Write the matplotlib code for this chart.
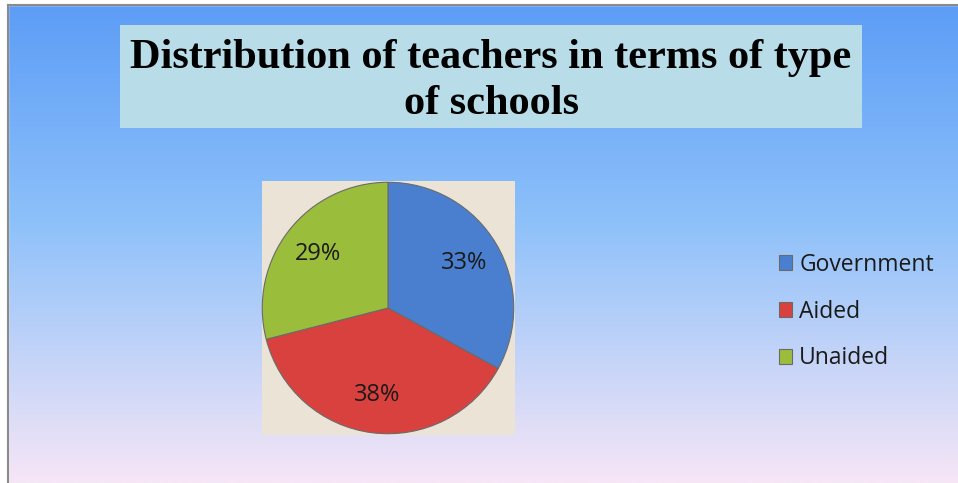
import numpy as np
import matplotlib.pyplot as plt
from matplotlib.patches import Rectangle

# data
categories = ['Government', 'Aided', 'Unaided']
shares = [33, 38, 29]
colors = ['#4a7fd0', '#d9413e', '#9bbd3c']

W, H = 958, 483
fig = plt.figure(figsize=(W / 100, H / 100), dpi=100)

# gradient background
bg = fig.add_axes([0, 0, 1, 1])
top = np.array([92, 156, 246]) / 255
mid = np.array([140, 192, 250]) / 255
bot = np.array([246, 230, 246]) / 255
t = np.linspace(0, 1, 256)[:, None]
grad = np.where(t < 0.45, top + (mid - top) * (t / 0.45), mid + (bot - mid) * ((t - 0.45) / 0.55))
bg.imshow(grad[:, None, :], aspect='auto', extent=[0, 1, 0, 1])
bg.set_xlim(0, 1)
bg.set_ylim(0, 1)
bg.axis('off')
# white margin and border lines
bg.add_patch(Rectangle((0, 0), 8 / W, 1, color='white', zorder=2))
bg.add_patch(Rectangle((0, 1 - 5 / H), 1, 5 / H, color='white', zorder=2))
bg.plot([8 / W, 8 / W], [0, 1 - 5 / H], color='#8a8a8a', lw=1.5, zorder=3)
bg.plot([8 / W, 1], [1 - 5 / H, 1 - 5 / H], color='#8a8a8a', lw=1.5, zorder=3)

# title box
bg.add_patch(Rectangle((120 / W, 1 - 128 / H), 742 / W, 103 / H,
                       facecolor='#b8dde8', edgecolor='none', zorder=2))
bg.text(491 / W, 1 - 58 / H, 'Distribution of teachers in terms of type',
        ha='center', va='center', fontsize=30.5, fontweight='bold',
        family='Liberation Serif', zorder=4)
bg.text(491 / W, 1 - 104 / H, 'of schools',
        ha='center', va='center', fontsize=30.5, fontweight='bold',
        family='Liberation Serif', zorder=4)

# beige square behind the pie
r = 127
cx, cy = 388, H - 308
bg.add_patch(Rectangle((262 / W, 1 - 435 / H), 253 / W, 254 / H,
                       facecolor='#ebe3d6', edgecolor='none', zorder=2))

ax = fig.add_axes([(cx - r) / W, (cy - r) / H, 2 * r / W, 2 * r / H])
wedges, texts, autotexts = ax.pie(
    shares, colors=colors, startangle=90, counterclock=False,
    autopct='%1.0f%%', pctdistance=0.7, radius=0.99,
    wedgeprops=dict(edgecolor='#6a6a6a', linewidth=0.8),
    textprops=dict(fontsize=17, family='Open Sans', color='#1a1a1a'))
ax.set_xlim(-1, 1)
ax.set_ylim(-1, 1)
ax.set_aspect('equal')

# legend
fig.legend(wedges, categories, loc='upper left',
           bbox_to_anchor=(758 / W, 1 - 232 / H), frameon=False,
           prop=dict(family='Open Sans', size=16.5), labelcolor='#1a1a1a',
           handlelength=0.6, handleheight=0.6, handletextpad=0.3,
           labelspacing=1.0)

plt.savefig('out.png', dpi=100)
